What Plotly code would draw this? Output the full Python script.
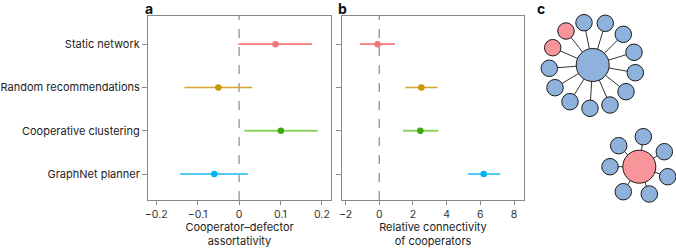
import plotly.graph_objects as go

# ---- data ----
conditions = ["Static network", "Random recommendations", "Cooperative clustering", "GraphNet planner"]
row_pos = [4, 3, 2, 1]
line_colors = ["#F7777A", "#D6A72C", "#8DD25F", "#50C8F0"]
point_colors = ["#F37676", "#C79800", "#3DA80E", "#00B4EE"]

assort_est = [0.088, -0.050, 0.101, -0.060]
assort_lo = [-0.002, -0.132, 0.013, -0.142]
assort_hi = [0.176, 0.032, 0.190, 0.021]

conn_est = [-0.10, 2.50, 2.44, 6.20]
conn_lo = [-1.15, 1.54, 1.41, 5.26]
conn_hi = [0.93, 3.47, 3.50, 7.18]

a_ticks = [-0.2, -0.1, 0, 0.1, 0.2]
a_ticklabels = ["\u22120.2", "\u22120.1", "0", "0.1", "0.2"]
b_ticks = [-2, 0, 2, 4, 6, 8]
b_ticklabels = ["\u22122", "0", "2", "4", "6", "8"]

# panel c networks (positions in panel pixel coordinates)
net1_center = (592.7, 65.0)
net1_leaves_x = [566.0, 552.7, 584.0, 605.3, 623.3, 634.0, 635.3, 626.0, 610.0, 590.0, 570.0, 555.0, 549.3]
net1_leaves_y = [31.0, 47.7, 22.7, 23.3, 34.3, 52.3, 72.7, 91.7, 105.0, 108.3, 101.7, 87.7, 68.3]
net1_leaf_type = ["D", "D", "C", "C", "C", "C", "C", "C", "C", "C", "C", "C", "C"]
net1_center_type = "C"

net2_center = (639.3, 166.7)
net2_leaves_x = [643.3, 664.3, 667.7, 649.3, 623.3, 610.0, 618.7]
net2_leaves_y = [136.7, 151.7, 176.7, 194.0, 191.7, 166.7, 145.7]
net2_leaf_type = ["C"] * 7
net2_center_type = "D"

node_colors = {"C": "#8FB2DC", "D": "#F7959A"}

W, H = 676, 248
FONT = "Inter, Liberation Sans, Arial, sans-serif"

fig = go.Figure()

def add_panel(est, lo, hi, xa, ya):
    for i in range(len(conditions)):
        fig.add_trace(go.Scatter(
            x=[lo[i], hi[i]], y=[row_pos[i], row_pos[i]], mode="lines",
            line=dict(color=line_colors[i], width=1.6 if i < 2 else 2.2),
            xaxis=xa, yaxis=ya, showlegend=False, hoverinfo="skip"))
        fig.add_trace(go.Scatter(
            x=[est[i]], y=[row_pos[i]], mode="markers",
            marker=dict(color=point_colors[i], size=6.5),
            xaxis=xa, yaxis=ya, showlegend=False))

add_panel(assort_est, assort_lo, assort_hi, "x", "y")
add_panel(conn_est, conn_lo, conn_hi, "x2", "y2")

# panel c networks
for center, lx, ly, ltypes, ctype in [
        (net1_center, net1_leaves_x, net1_leaves_y, net1_leaf_type, net1_center_type),
        (net2_center, net2_leaves_x, net2_leaves_y, net2_leaf_type, net2_center_type)]:
    ex, ey = [], []
    for x, y in zip(lx, ly):
        ex += [center[0], x, None]
        ey += [center[1], y, None]
    fig.add_trace(go.Scatter(x=ex, y=ey, mode="lines", line=dict(color="#333333", width=1),
                             xaxis="x3", yaxis="y3", showlegend=False, hoverinfo="skip"))
    fig.add_trace(go.Scatter(x=[center[0]], y=[center[1]], mode="markers",
                             marker=dict(size=33, color=node_colors[ctype], line=dict(color="#1a1a1a", width=1)),
                             xaxis="x3", yaxis="y3", showlegend=False))
    fig.add_trace(go.Scatter(x=lx, y=ly, mode="markers",
                             marker=dict(size=16.5, color=[node_colors[t] for t in ltypes],
                                         line=dict(color="#1a1a1a", width=1)),
                             xaxis="x3", yaxis="y3", showlegend=False))

def px_x(p):
    return p / W

def px_y(p):
    return 1 - p / H

box_color = "#8a8a8a"
common_x = dict(showgrid=False, zeroline=False, showline=True, linecolor=box_color, linewidth=1,
                mirror=True, ticks="outside", ticklen=4, tickcolor=box_color, automargin=False,
                tickfont=dict(size=10.5, color="#333"), title_font=dict(size=11, color="#222"),
                title_standoff=8)
common_y = dict(showgrid=False, zeroline=False, showline=True, linecolor=box_color, linewidth=1,
                mirror=True, ticks="outside", ticklen=5, tickcolor=box_color, automargin=False,
                range=[0.4, 4.65], tickvals=row_pos)

fig.update_layout(
    template="none",
    width=W, height=H, margin=dict(l=0, r=0, t=0, b=0, autoexpand=False),
    paper_bgcolor="white", plot_bgcolor="white",
    font=dict(family=FONT, color="#222"),
    xaxis=dict(domain=[px_x(148), px_x(331)], range=[-0.22, 0.222],
               tickvals=a_ticks, ticktext=a_ticklabels,
               title=dict(text="Cooperator\u2013defector<br>assortativity"), anchor="y", **common_x),
    yaxis=dict(domain=[px_y(200), px_y(16)], ticktext=conditions, anchor="x",
               tickfont=dict(size=11, color="#222"), **common_y),
    xaxis2=dict(domain=[px_x(342), px_x(524)], range=[-2.21, 8.59],
                tickvals=b_ticks, ticktext=b_ticklabels,
                title=dict(text="Relative connectivity<br>of cooperators"), anchor="y2", **common_x),
    yaxis2=dict(domain=[px_y(200), px_y(16)], showticklabels=False, anchor="x2", **common_y),
    xaxis3=dict(domain=[px_x(530), 1], range=[530, 676], visible=False, anchor="y3", automargin=False),
    yaxis3=dict(domain=[0, 1], range=[248, 0], visible=False, anchor="x3", automargin=False),
    shapes=[
        dict(type="line", xref="x", yref="y domain", x0=0, x1=0, y0=0, y1=1,
             line=dict(color="#888", width=1.2, dash="dash"), layer="below"),
        dict(type="line", xref="x2", yref="y2 domain", x0=0, x1=0, y0=0, y1=1,
             line=dict(color="#888", width=1.2, dash="dash"), layer="below"),
    ],
    annotations=[
        dict(text="<b>a</b>", x=px_x(143), y=px_y(9), xref="paper", yref="paper",
             xanchor="left", yanchor="middle", showarrow=False, font=dict(size=14, color="#111")),
        dict(text="<b>b</b>", x=px_x(336), y=px_y(9), xref="paper", yref="paper",
             xanchor="left", yanchor="middle", showarrow=False, font=dict(size=14, color="#111")),
        dict(text="<b>c</b>", x=px_x(535), y=px_y(9), xref="paper", yref="paper",
             xanchor="left", yanchor="middle", showarrow=False, font=dict(size=14, color="#111")),
    ],
)

fig.write_html("out.html", config={"displayModeBar": False},
               post_script="document.body.style.margin='0';document.body.style.overflow='hidden';")
